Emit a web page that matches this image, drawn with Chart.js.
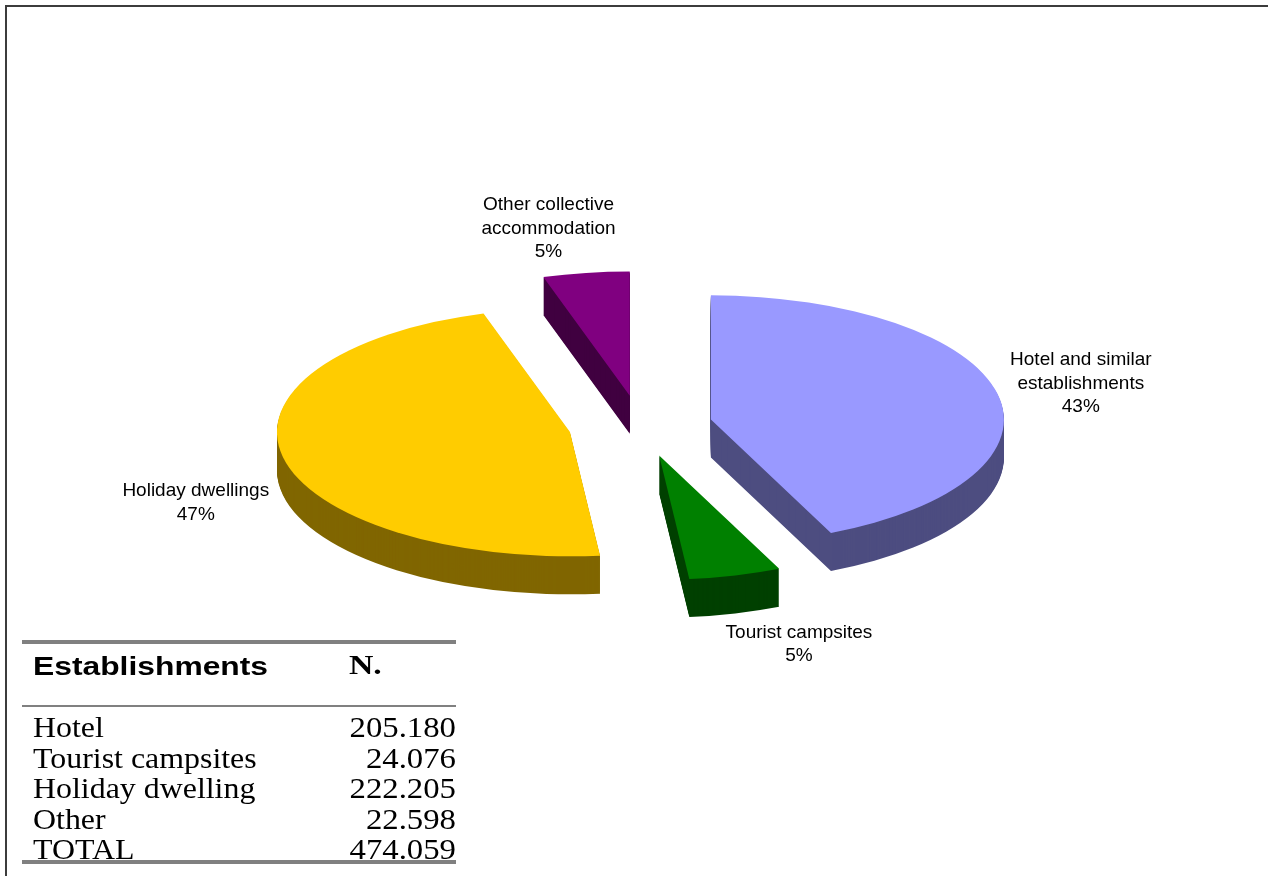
<!DOCTYPE html>
<html lang="en">
  <head>
    <meta charset="UTF-8" />
    <meta name="viewport" content="width=device-width, initial-scale=1.0" />
    <title>Establishments by type</title>
    <script src="https://cdn.jsdelivr.net/npm/chart.js"></script>
    <style>
      body { margin: 0; background: #fff; }
      #wrap { position: relative; width: 1268px; height: 876px; overflow: hidden; }
      #pie { position: absolute; left: 0; top: 0; }
      #frame {
        position: absolute; left: 5px; top: 5px; right: -10px; bottom: -10px;
        border-top: 2px solid #3c3c3c; border-left: 2px solid #3c3c3c;
      }
      .rule { position: absolute; left: 22px; width: 434px; background: #808080; }
      .cell { position: absolute; white-space: nowrap; color: #000; line-height: 30px; }
      .name { left: 33px; font: 29px "Liberation Serif", "Times New Roman", serif; transform: scaleX(1.1); transform-origin: left; }
      .num { left: 256px; width: 200px; text-align: right; font: 29px "Liberation Serif", "Times New Roman", serif; transform: scaleX(1.13); transform-origin: right; }
      .head1 { left: 33px; top: 650.8px; font: bold 26.5px "Liberation Sans", Arial, sans-serif; transform: scaleX(1.2); transform-origin: left; }
      .head2 { left: 349px; top: 650.4px; font: bold 27px "Liberation Serif", "Times New Roman", serif; transform: scaleX(1.25); transform-origin: left; }
    </style>
  </head>
  <body>
    <div id="wrap">
      <canvas id="pie" width="1268" height="876"></canvas>
      <div id="frame"></div>
      <div id="summary"></div>
    </div>

    <script>
      // establishments by type (pie slices, clockwise from 12 o'clock)
      const categories = ['Hotel and similar establishments', 'Tourist campsites', 'Holiday dwellings', 'Other collective accommodation'];
      const labelLines = [['Hotel and similar', 'establishments'], ['Tourist campsites'], ['Holiday dwellings'], ['Other collective', 'accommodation']];
      const establishments = [205180, 24076, 222205, 22598];

      // the same numbers in the summary table
      const tableNames = ['Hotel', 'Tourist campsites', 'Holiday dwelling', 'Other'];
      const totalName = 'TOTAL';

      const topColors = ['#9999ff', '#008000', '#ffcc00', '#800080'];
      const sideColors = ['#4d4d80', '#004000', '#806600', '#400040'];

      const total = establishments.reduce((a, b) => a + b, 0);

      // 205180 -> "205.180"
      function fmt(n) {
        return String(n).replace(/\B(?=(\d{3})+(?!\d))/g, '.');
      }

      /* squash the pie into an ellipse, pull every slice out along its
         middle angle and stack darker copies underneath for the thickness */
      const pie3d = {
        id: 'pie3d',
        beforeDatasetsDraw(chart, args, opts) {
          const ctx = chart.ctx;
          const arcs = chart.getDatasetMeta(0).data;

          function face(el, dy, color) {
            const mid = (el.startAngle + el.endAngle) / 2;
            ctx.save();
            ctx.translate(el.x, el.y + dy);
            ctx.scale(1, opts.tilt);
            ctx.translate(Math.cos(mid) * opts.explode - el.x, Math.sin(mid) * opts.explode - el.y);
            const ghost = Object.create(el);
            ghost.options = Object.assign({}, el.options, { backgroundColor: color, borderWidth: 0 });
            ghost.draw(ctx);
            ctx.restore();
          }

          for (let d = opts.depth; d > 0; d--) {
            arcs.forEach((el, i) => face(el, d, sideColors[i]));
          }
          arcs.forEach((el, i) => face(el, 0, topColors[i]));
          return false;
        }
      };

      // category + percentage outside each slice
      const sliceLabels = {
        id: 'sliceLabels',
        afterDraw(chart, args, opts) {
          const geo = chart.options.plugins.pie3d;
          const ctx = chart.ctx;
          const arcs = chart.getDatasetMeta(0).data;
          ctx.save();
          ctx.font = opts.font;
          ctx.fillStyle = '#000';
          ctx.textAlign = 'center';
          ctx.textBaseline = 'middle';
          arcs.forEach((el, i) => {
            const mid = (el.startAngle + el.endAngle) / 2;
            const cos = Math.cos(mid), sin = Math.sin(mid);
            const r = el.outerRadius + geo.explode;
            const px = el.x + cos * r;
            let py = el.y + sin * r * geo.tilt;
            if (sin > 0) py += geo.depth;

            const lines = labelLines[i].concat(Math.round(establishments[i] / total * 100) + '%');
            const w = Math.max(...lines.map(s => ctx.measureText(s).width));
            const h = lines.length * opts.lineHeight;
            const len = Math.hypot(cos, sin * geo.tilt);
            const ux = cos / len, uy = sin * geo.tilt / len;
            const cx = px + ux * (opts.gap + w / 2) + opts.nudge[i][0];
            const cy = py + uy * (opts.gap + h / 2) + opts.nudge[i][1];
            lines.forEach((s, j) => {
              ctx.fillText(s, cx, cy + (j - (lines.length - 1) / 2) * opts.lineHeight);
            });
          });
          ctx.restore();
        }
      };

      new Chart(document.getElementById('pie'), {
        type: 'pie',
        data: {
          labels: categories,
          datasets: [{
            data: establishments,
            backgroundColor: topColors,
            borderWidth: 0
          }]
        },
        options: {
          responsive: false,
          animation: false,
          devicePixelRatio: 1,
          radius: 293,
          layout: { padding: { left: 13, right: 0, top: 0, bottom: 24 } },
          plugins: {
            legend: { display: false },
            tooltip: { enabled: false },
            pie3d: { tilt: 0.424, depth: 38, explode: 72 },
            sliceLabels: {
              font: '19px "Liberation Sans", Arial, sans-serif',
              lineHeight: 23.5,
              gap: 12,
              nudge: [[1, -6], [18, 1], [-2, 5], [-11, 0]]
            }
          }
        },
        plugins: [pie3d, sliceLabels]
      });

      // summary table under the pie
      const summary = document.getElementById('summary');
      function add(cls, text, top) {
        const d = document.createElement('div');
        d.className = cls;
        if (text !== null) d.textContent = text;
        if (top !== undefined) d.style.top = top + 'px';
        summary.appendChild(d);
        return d;
      }
      add('rule', null, 640).style.height = '4px';
      add('cell head1', 'Establishments');
      add('cell head2', 'N.');
      add('rule', null, 705).style.height = '2px';
      const rows = tableNames.map((n, i) => [n, establishments[i]]).concat([[totalName, total]]);
      rows.forEach((row, i) => {
        const top = 711.2 + i * 30.5;
        add('cell name', row[0], top);
        add('cell num', fmt(row[1]), top);
      });
      add('rule', null, 860).style.height = '4px';
    </script>
  </body>
</html>
